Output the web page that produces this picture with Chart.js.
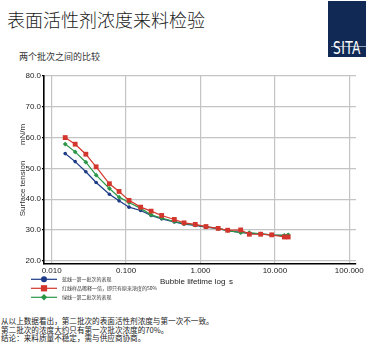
<!DOCTYPE html>
<html>
<head>
<meta charset="utf-8">
<script src="https://cdn.jsdelivr.net/npm/chart.js@4/dist/chart.umd.min.js"></script>
<style>
  html, body { margin: 0; padding: 0; background: #fff; }
  body { width: 381px; height: 349px; position: relative; overflow: hidden;
         font-family: "Noto Sans CJK SC", "Liberation Sans", sans-serif; color: #222; }
  #title { position: absolute; left: 7px; top: 8px; font-size: 18px; line-height: 22px;
           font-weight: 300; color: #1a1a1a; white-space: nowrap; }
  #subtitle { position: absolute; left: 19px; top: 51px; font-size: 9px; line-height: 12px;
              color: #333; white-space: nowrap; }
  #logo { position: absolute; left: 328px; top: 1px; width: 38px; height: 56px; background: #102a55; }
  #logo span { position: absolute; left: 0; width: 38px; top: 38px; text-align: center;
               font-family: "Liberation Sans Narrow", "DejaVu Sans Condensed", "Liberation Sans", sans-serif;
               font-size: 17px; line-height: 18px; color: #fff; letter-spacing: 0.5px;
               transform: scaleX(0.8); }
  #logo i { position: absolute; left: 3px; right: 0; top: 45px; height: 1px; background: rgba(255,255,255,0.55); }
  #wrap { position: absolute; left: 0; top: 62px; width: 381px; height: 243px; }
  #notes { position: absolute; left: 1px; top: 317px; font-size: 7.6px; line-height: 8.5px;
           color: #222; white-space: nowrap; }
</style>
</head>
<body>
<div id="title">表面活性剂浓度来料检验</div>
<div id="subtitle">两个批次之间的比较</div>
<div id="logo"><i></i><span>SITA</span></div>
<div id="wrap"><canvas id="chart" width="381" height="243"></canvas></div>
<div id="notes">
  从以上数据看出，第二批次的表面活性剂浓度与第一次不一致。<br>
  第二批次的浓度大约只有第一次批次浓度的70%。<br>
  结论：来料质量不稳定，需与供应商协商。
</div>
<script>
// Bubble lifetime (s) of each measurement
const lifetimes = [0.0152, 0.0207, 0.0288, 0.0396, 0.0597, 0.0805, 0.1096, 0.157, 0.217, 0.301,
                   0.445, 0.601, 0.851, 1.186, 1.73, 2.32, 3.47, 4.53, 6.44, 9.06, 13.4, 15.1];

// Surface tension (mN/m)
const batch1 = [54.8, 52.2, 48.9, 45.4, 41.6, 39.45, 37.4, 36.3, 34.7, 33.6,
                32.6, 31.9, 31.5, 30.9, 30.4, 29.8, 29.2, 28.9, 28.7, 28.3, 28.2, 28.3];
const diluted = [60.0, 57.85, 54.6, 50.5, 45.0, 42.5, 39.6, 37.4, 36.1, 34.7,
                 33.4, 32.3, 31.8, 31.1, 30.5, 29.9, 30.0, 28.6, 28.6, 28.4, 27.7, 27.7];
const batch2 = [57.9, 55.35, 52.0, 47.8, 43.45, 40.65, 38.9, 37.0, 34.9, 33.85,
                32.75, 32.0, 31.6, 31.0, 30.5, 29.8, 29.1, 29.1, 28.7, 28.4, 28.2, 28.4];

const seriesNames = ['蓝线—第一批次的表现', '红线样品稀释一倍，即只有原来浓度的50%', '绿线—第二批次的表现'];
const xTicks = [0.01, 0.1, 1, 10, 100];
const yTicks = [20, 30, 40, 50, 60, 70, 80];
const xTitle = ['Bubble lifetime log', 's'];
const yTitle = 'Surface tension       mN/m';

const toPoints = ys => ys.map((y, i) => ({ x: lifetimes[i], y }));

const styles = [
  { color: '#1d3a86', point: 'circle',  r: 1.8, lr: 3.0 },
  { color: '#d2362c', point: 'rect',    r: 3.4, lr: 4.4 },
  { color: '#2c9647', point: 'rectRot', r: 2.4, lr: 3.2 }
];
const values = [batch1, diluted, batch2];

const datasets = values.map((v, i) => ({
  label: seriesNames[i],
  data: toPoints(v),
  borderColor: styles[i].color,
  backgroundColor: styles[i].color,
  pointStyle: styles[i].point,
  pointRadius: styles[i].r,
  pointBorderWidth: 0,
  borderWidth: 1.2,
  tension: 0
}));
// draw red first so blue and green sit on top like the original plot order
const ordered = [datasets[1], datasets[2], datasets[0]];

function marker(ctx, style, x, y, r) {
  ctx.fillStyle = style.color;
  ctx.beginPath();
  if (style.point === 'circle') {
    ctx.arc(x, y, r, 0, Math.PI * 2);
  } else if (style.point === 'rect') {
    const s = r * Math.SQRT1_2;
    ctx.rect(x - s, y - s, 2 * s, 2 * s);
  } else {
    ctx.moveTo(x, y - r); ctx.lineTo(x + r, y); ctx.lineTo(x, y + r); ctx.lineTo(x - r, y);
    ctx.closePath();
  }
  ctx.fill();
}

// axis caption and legend below the plot
const annotations = {
  id: 'annotations',
  afterDraw(chart) {
    const ctx = chart.ctx;
    ctx.save();
    ctx.textBaseline = 'middle';
    ctx.fillStyle = '#222';
    ctx.font = '8px "Liberation Sans", Arial, sans-serif';
    ctx.textAlign = 'left';
    ctx.fillText(xTitle[0], 160, 219.5);
    ctx.fillText(xTitle[1], 229, 219.5);

    const rows = [217.3, 226.3, 235.3];
    styles.forEach((st, i) => {
      const y = rows[i];
      ctx.strokeStyle = st.color;
      ctx.lineWidth = 1.2;
      ctx.beginPath(); ctx.moveTo(31, y); ctx.lineTo(57, y); ctx.stroke();
      marker(ctx, st, 44, y, st.lr);
      ctx.fillStyle = '#333';
      ctx.font = '5px "Noto Sans CJK SC", sans-serif';
      ctx.fillText(seriesNames[i], 62, y);
    });
    ctx.restore();
  }
};

new Chart(document.getElementById('chart'), {
  type: 'line',
  data: { datasets: ordered },
  plugins: [annotations],
  options: {
    responsive: false,
    animation: false,
    devicePixelRatio: 1,
    layout: { padding: { left: 0, right: 25, top: 14, bottom: 0 } },
    plugins: { legend: { display: false }, tooltip: { enabled: false } },
    scales: {
      x: {
        type: 'logarithmic',
        min: Math.pow(10, -2.103),
        max: Math.pow(10, 2.09),
        afterBuildTicks: s => { s.ticks = xTicks.map(v => ({ value: v })); },
        afterFit: s => { s.height = 41; },
        grid: { color: '#c4c4c4', lineWidth: 1.2, drawTicks: false },
        border: { display: true, color: '#000', width: 1.6 },
        ticks: {
          autoSkip: false, maxRotation: 0, padding: 2, color: '#222',
          font: { family: '"Liberation Sans", Arial, sans-serif', size: 8 },
          callback: v => Number(v).toFixed(3)
        }
      },
      y: {
        type: 'linear',
        min: 18.93,
        max: 80,
        afterBuildTicks: s => { s.ticks = yTicks.map(v => ({ value: v })); },
        afterFit: s => { s.width = 44; },
        grid: { color: '#c4c4c4', lineWidth: 1.2, tickLength: 2, tickColor: '#000' },
        border: { display: true, color: '#000', width: 1.6 },
        title: {
          display: true, text: yTitle, color: '#333',
          font: { family: '"Liberation Sans", Arial, sans-serif', size: 8 },
          padding: { top: 18, bottom: 0 }
        },
        ticks: {
          padding: 1, color: '#222',
          font: { family: '"Liberation Sans", Arial, sans-serif', size: 8 },
          callback: v => Number(v).toFixed(1)
        }
      }
    }
  }
});
</script>
</body>
</html>
